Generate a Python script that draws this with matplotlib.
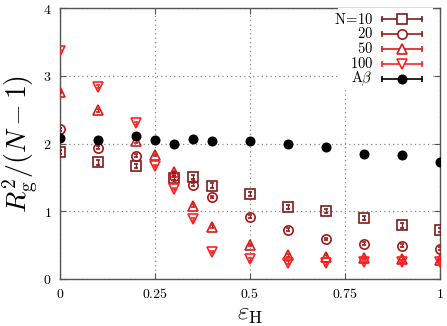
import matplotlib
matplotlib.use("Agg")
import matplotlib.pyplot as plt
from matplotlib.lines import Line2D
from matplotlib.patches import Rectangle
import numpy as np

plt.rcParams['mathtext.fontset'] = 'cm'
plt.rcParams['font.family'] = ['DejaVu Serif']

# data
eps_a = [0, 0.1, 0.2, 0.3, 0.35, 0.4, 0.5, 0.6, 0.7, 0.8, 0.9, 1.0]
eps_b = [0, 0.1, 0.2, 0.25, 0.3, 0.35, 0.4, 0.5, 0.6, 0.7, 0.8, 0.9, 1.0]

n10 = [1.88, 1.72, 1.67, 1.49, 1.50, 1.38, 1.26, 1.06, 1.00, 0.90, 0.79, 0.72]
n10_err = [0.03] * 12
n20 = [2.21, 1.94, 1.82, 1.52, 1.39, 1.21, 0.92, 0.73, 0.59, 0.52, 0.49, 0.45]
n20_err = [0.02] * 12
n50 = [2.76, 2.49, 2.03, 1.83, 1.58, 1.08, 0.77, 0.50, 0.35, 0.33, 0.31, 0.30, 0.28]
n50_err = [0.02] * 13
n100 = [3.36, 2.84, 2.30, 1.67, 1.33, 0.88, 0.40, 0.29, 0.24, 0.23, 0.25, 0.25, 0.25]
n100_err = [0.02] * 13
abeta = [2.08, 2.05, 2.11, 2.05, 1.99, 2.07, 2.03, 2.04, 1.99, 1.95, 1.85, 1.83, 1.72]
abeta_err = [0.01] * 13

labels = [r'$\mathrm{N\!=\!10}$', r'$20$', r'$50$', r'$100$', r'$\mathrm{A}\beta$']
colors = ['#7a1c1c', '#9e1a1a', '#d41c1c', '#ff2222', '#000000']
xticks = [0, 0.25, 0.5, 0.75, 1]
xticklabels = [r'$0$', r'$0.25$', r'$0.5$', r'$0.75$', r'$1$']
yticks = [0, 1, 2, 3, 4]
yticklabels = [r'$0$', r'$1$', r'$2$', r'$3$', r'$4$']

fig = plt.figure(figsize=(4.47, 3.26), dpi=100)
ax = fig.add_axes([60/447, 1-279/326, 380/447, 271/326])

series = [
    (eps_a, n10, n10_err, 's', 6.5, False),
    (eps_a, n20, n20_err, 'o', 6.7, False),
    (eps_b, n50, n50_err, '^', 6.6, False),
    (eps_b, n100, n100_err, 'v', 6.6, False),
    (eps_b, abeta, abeta_err, 'o', 6.0, True),
]

for (x, y, e, m, ms, filled), c in zip(series, colors):
    ax.errorbar(x, y, yerr=e, fmt=m, ms=ms, mfc=c if filled else 'none',
                mec=c, mew=1.2, ecolor=c, elinewidth=1.0, capsize=1.5,
                capthick=1.0, zorder=3)

ax.set_xlim(0, 1)
ax.set_ylim(0, 4)
ax.set_xticks(xticks)
ax.set_xticklabels(xticklabels, fontsize=10)
ax.set_yticks(yticks)
ax.set_yticklabels(yticklabels, fontsize=10)
ax.tick_params(direction='in', top=True, right=True, length=4, width=0.8,
               color='#555555', pad=6)
for s in ax.spines.values():
    s.set_color('#555555')
    s.set_linewidth(1.0)
ax.grid(True, linestyle=(0, (1, 2.5)), color='#888888', linewidth=0.9)
ax.set_axisbelow(True)

ax.set_xlabel(r'$\varepsilon_\mathrm{H}$', fontsize=18, labelpad=1)
ax.set_ylabel(r'$R_\mathrm{g}^2/(N-1)$', fontsize=20, labelpad=2)

# legend (gnuplot style: right-aligned labels, errorbar sample on the right)
def fx(px):
    return (px - 60) / 380.0

def fy(py):
    return (279 - py) / 271.0

ax.add_patch(Rectangle((fx(338), fy(87)), fx(433) - fx(338), 1 - fy(87),
                       transform=ax.transAxes, facecolor='white',
                       edgecolor='none', zorder=4))
rows_py = [19, 34, 48.5, 63.5, 79]
for (x, y, e, m, ms, filled), c, lab, py in zip(series, colors, labels, rows_py):
    yy = fy(py)
    ax.add_line(Line2D([fx(382), fx(422)], [yy, yy], transform=ax.transAxes,
                       color=c, lw=1.2, marker='|', ms=4, mew=1.2,
                       clip_on=False, zorder=5))
    ax.add_line(Line2D([fx(402)], [yy], transform=ax.transAxes, color=c,
                       ls='none', marker=m, ms=ms,
                       mfc=c if filled else 'white', mec=c, mew=1.2,
                       clip_on=False, zorder=6))
    ax.text(fx(373), yy, lab, transform=ax.transAxes, ha='right',
            va='center', fontsize=10.5, zorder=6)

fig.savefig('out.png', dpi=100)
